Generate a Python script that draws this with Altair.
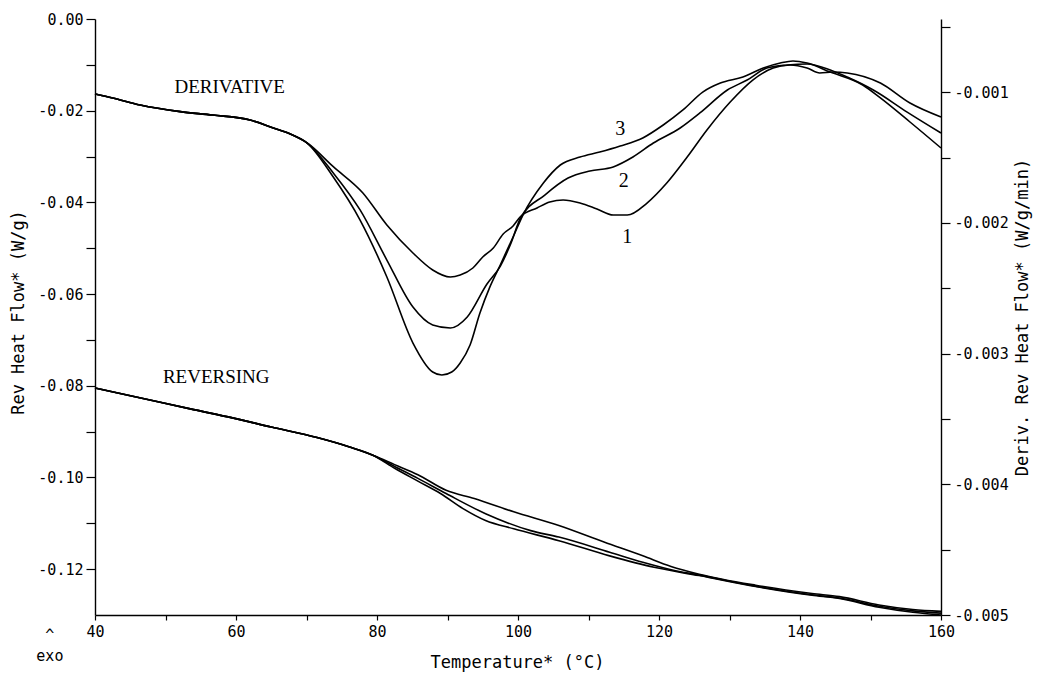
import altair as alt
import pandas as pd

# ---------------- data ----------------
# Derivative of reversing heat flow (right axis, W/g/min)
d_common_T = [40.0, 42.5, 46.4, 52.1, 56.7, 62.0, 65.3, 67.7, 70.1]
d_common_v = [-0.001014, -0.001044, -0.001098, -0.001149, -0.001175,
              -0.001213, -0.001274, -0.001320, -0.001389]

d1_T = [73.8, 78.0, 81.4, 85.1, 87.9, 90.4, 91.8, 93.6, 95.0, 96.5, 97.9, 99.3,
        100.3, 102.7, 104.5, 106.4, 108.8, 111.2, 113.5, 115.5, 118.3, 121.1,
        124.0, 126.8, 130.1, 133.3, 136.2, 138.6, 141.0, 142.8, 144.7, 146.7,
        151.4, 155.6, 160.0]
d1_v = [-0.001570, -0.001771, -0.002016, -0.002230, -0.002360, -0.002414,
        -0.002399, -0.002345, -0.002261, -0.002192, -0.002085, -0.002024,
        -0.001955, -0.001886, -0.001840, -0.001825, -0.001848, -0.001894,
        -0.001940, -0.001940, -0.001848, -0.001695, -0.001496, -0.001289,
        -0.001075, -0.000907, -0.000815, -0.000792, -0.000815, -0.000853,
        -0.000846, -0.000853, -0.000930, -0.001083, -0.001190]

d2_T = [73.8, 77.6, 81.4, 85.1, 87.9, 90.4, 92.8, 95.6, 97.5, 98.9, 100.3,
        103.8, 107.1, 110.2, 113.5, 116.3, 119.2, 123.0, 125.8, 129.7, 132.5,
        135.3, 138.2, 141.0, 144.3, 146.7, 150.4, 155.2, 160.0]
d2_v = [-0.001618, -0.001901, -0.002284, -0.002644, -0.002781, -0.002804,
        -0.002720, -0.002468, -0.002330, -0.002169, -0.001970, -0.001787,
        -0.001657, -0.001603, -0.001572, -0.001496, -0.001389, -0.001274,
        -0.001159, -0.000983, -0.000907, -0.000815, -0.000792, -0.000784,
        -0.000830, -0.000884, -0.000983, -0.001152, -0.001312]

d3_T = [73.8, 77.6, 81.4, 85.1, 87.9, 89.2, 90.6, 91.8, 93.2, 94.6, 96.0,
        97.5, 99.3, 100.7, 103.6, 106.0, 108.8, 111.6, 114.5, 117.7, 120.6,
        123.4, 126.2, 128.7, 131.9, 134.8, 137.2, 139.0, 141.0, 144.3, 148.9,
        151.4, 155.6, 160.0]
d3_v = [-0.001649, -0.001978, -0.002414, -0.002919, -0.003141, -0.003164,
        -0.003141, -0.003072, -0.002934, -0.002689, -0.002491, -0.002320,
        -0.002108, -0.001940, -0.001695, -0.001557, -0.001496, -0.001458,
        -0.001412, -0.001350, -0.001251, -0.001136, -0.000999, -0.000930,
        -0.000884, -0.000815, -0.000777, -0.000761, -0.000777, -0.000846,
        -0.000945, -0.001044, -0.001228, -0.001427]

# Reversing heat flow (left axis, W/g)
r_common_T = [40.0, 46.0, 54.0, 59.5, 65.0, 71.5, 76.0, 79.5]
r_common_v = [-0.0805, -0.0825, -0.0852, -0.0870, -0.0890, -0.0913, -0.0933, -0.0952]

r1_T = [82.5, 85.8, 89.8, 93.8, 99.4, 105.8, 112.2, 117.7, 121.7, 125.7,
        133.7, 141.7, 145.6, 151.2, 156.0, 160.0]
r1_v = [-0.0972, -0.0994, -0.1028, -0.1046, -0.1075, -0.1105, -0.1141, -0.1171,
        -0.1194, -0.1211, -0.1235, -0.1253, -0.1260, -0.1278, -0.1288, -0.1292]
r2_T = [82.5, 85.8, 89.8, 95.4, 101.8, 105.8, 113.0, 117.7, 122.5, 125.7,
        133.7, 141.7, 145.6, 151.2, 156.0, 160.0]
r2_v = [-0.0976, -0.1002, -0.1035, -0.1079, -0.1116, -0.1130, -0.1163, -0.1185,
        -0.1204, -0.1213, -0.1237, -0.1256, -0.1263, -0.1281, -0.1291, -0.1296]
r3_T = [82.5, 85.8, 89.0, 92.2, 95.4, 99.4, 105.8, 113.0, 119.3, 125.7,
        133.7, 141.7, 145.6, 151.2, 156.0, 160.0]
r3_v = [-0.0980, -0.1008, -0.1035, -0.1068, -0.1094, -0.1112, -0.1138, -0.1171,
        -0.1196, -0.1214, -0.1238, -0.1257, -0.1264, -0.1283, -0.1294, -0.1300]

# Annotations
serif_labels = ["DERIVATIVE", "REVERSING", "3", "2", "1"]
serif_T = [59.1, 57.2, 114.5, 115.0, 115.5]
serif_v = [-0.0148, -0.0780, -0.0240, -0.0353, -0.0476]
serif_size = [19, 19, 20, 20, 20]

mono_labels = ["^", "exo"]
mono_T = [33.6, 33.6]
mono_v = [-0.1343, -0.1390]

# ---------------- tables ----------------
def build(curves, field):
    rows = []
    for name, (T, v) in curves.items():
        for t, val in zip(T, v):
            rows.append({"curve": name, "T": t, field: val})
    return pd.DataFrame(rows)

deriv_df = build({
    "1": (d_common_T + d1_T, d_common_v + d1_v),
    "2": (d_common_T + d2_T, d_common_v + d2_v),
    "3": (d_common_T + d3_T, d_common_v + d3_v),
}, "d")
rev_df = build({
    "1": (r_common_T + r1_T, r_common_v + r1_v),
    "2": (r_common_T + r2_T, r_common_v + r2_v),
    "3": (r_common_T + r3_T, r_common_v + r3_v),
}, "v")
serif_df = pd.DataFrame({"label": serif_labels, "T": serif_T, "v": serif_v, "size": serif_size})
mono_df = pd.DataFrame({"label": mono_labels, "T": mono_T, "v": mono_v})

MONO = "DejaVu Sans Mono"
SERIF = "Liberation Serif"

common_axis = dict(labelFont=MONO, labelFontSize=15, labelColor="black",
                   titleFont=MONO, titleFontSize=17, titleFontWeight="normal",
                   titleColor="black", domainColor="black", domainWidth=1.4,
                   tickColor="black", tickWidth=1.2, grid=False,
                   labelOverlap=False, labelFlush=False)

x_enc = alt.X("T:Q", scale=alt.Scale(domain=[40, 160], nice=False, zero=False),
              axis=alt.Axis(values=list(range(40, 161, 10)),
                            labelExpr="datum.value % 20 == 0 ? datum.label : ''",
                            title="Temperature* (°C)", tickSize=5, labelPadding=4,
                            titleX=422, titleY=47, titleBaseline="middle",
                            titleAlign="center", **common_axis))

left_vals = [round(-0.01 * i, 2) for i in range(13)]
y_left = alt.Y("v:Q", scale=alt.Scale(domain=[-0.13, 0.0], nice=False, zero=False),
               axis=alt.Axis(values=left_vals,
                             labelExpr="round(datum.value*100) % 2 == 0 ? replace(format(datum.value, '.2f'), '\u2212', '-') : ''",
                             title="Rev Heat Flow* (W/g)", tickSize=9, labelPadding=3,
                             titleAngle=270, titleX=-77, titleY=293,
                             titleAlign="center", titleBaseline="middle",
                             **common_axis))

right_vals = [round(-0.0005 * i, 4) for i in range(1, 11)]
y_right = alt.Y("d:Q", scale=alt.Scale(domain=[-0.005, -0.00044], nice=False, zero=False),
                axis=alt.Axis(orient="right", values=right_vals,
                              labelExpr="round(datum.value*10000) % 10 == 0 ? replace(format(datum.value, '.3f'), '\u2212', '-') : ''",
                              title="Deriv. Rev Heat Flow* (W/g/min)", tickSize=9,
                              labelPadding=4, titleAngle=270, titleX=81, titleY=298,
                              titleAlign="center", titleBaseline="middle",
                              **common_axis))

rev = alt.Chart(rev_df).mark_line(color="black", strokeWidth=1.6, interpolate="monotone").encode(
    x=x_enc, y=y_left, detail="curve:N")

serif_txt = alt.Chart(serif_df).mark_text(font=SERIF, color="black", align="center",
                                          baseline="middle").encode(
    x="T:Q", y="v:Q", text="label:N",
    size=alt.Size("size:Q", scale=None, legend=None))

mono_txt = alt.Chart(mono_df).mark_text(font=MONO, fontSize=15, color="black",
                                        align="center", baseline="middle").encode(
    x="T:Q", y="v:Q", text="label:N")

left_layer = alt.layer(rev, serif_txt, mono_txt)

deriv = alt.Chart(deriv_df).mark_line(color="black", strokeWidth=1.6, interpolate="monotone").encode(
    x=x_enc, y=y_right, detail="curve:N")

chart = alt.layer(left_layer, deriv).resolve_scale(y="independent").properties(
    width=846, height=596,
    autosize=alt.AutoSizeParams(type="none"),
    padding={"left": 95, "top": 19, "right": 101, "bottom": 60},
    background="white",
).configure_view(stroke=None)

chart.save("out.html", embed_options={"renderer": "svg", "actions": False})
